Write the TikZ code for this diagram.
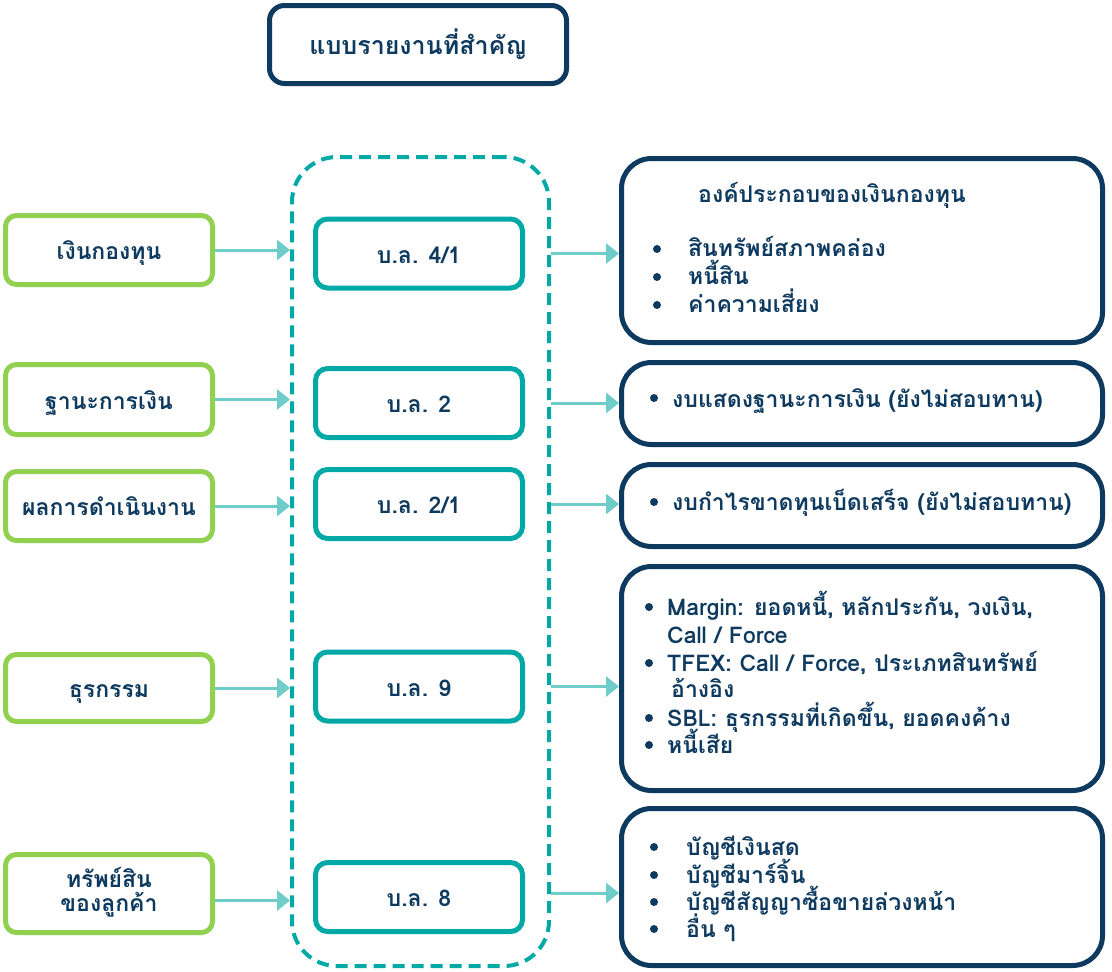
\documentclass[tikz,border=0pt]{standalone}
\usepackage{fontspec}
\setmainfont[Script=Thai]{Loma}
\usetikzlibrary{arrows.meta}
\definecolor{navy}{HTML}{0E3A5F}
\definecolor{lgreen}{HTML}{92D050}
\definecolor{teal2}{HTML}{00A9A6}
\definecolor{arrowc}{HTML}{6ECDC8}
\tikzset{
  txt/.style={font=\bfseries\fontsize{23}{27}\selectfont, text=navy},
  oneline/.style={text height=24pt, text depth=5pt},
  greenbox/.style={txt, draw=lgreen, line width=5pt, rounded corners=11pt, minimum width=207pt, fill=white, align=center, inner sep=0pt},
  midbox/.style={txt, oneline, draw=teal2, line width=5pt, rounded corners=12pt, minimum width=207pt, minimum height=69pt, fill=white, inner sep=0pt},
  rbox/.style={draw=navy, line width=5pt, rounded corners=30pt, minimum width=481pt, inner sep=0pt},
  dashbox/.style={draw=teal2, line width=4pt, dash pattern=on 12pt off 7pt, rounded corners=45pt, minimum width=257pt, minimum height=809pt, inner sep=0pt},
  arr/.style={draw=arrowc, line width=3pt, -{Triangle[length=13pt,width=20pt]}},
  line/.style={txt, anchor=base west, inner sep=0pt},
  bulletdot/.style={circle, fill=navy, minimum size=8pt, inner sep=0pt},
}
\begin{document}
\begin{tikzpicture}[x=1pt,y=-1pt]
\useasboundingbox (0,0) rectangle (1112,972);
% title
\node[txt, draw=navy, line width=5pt, rounded corners=15pt, minimum width=297pt, minimum height=78pt, font=\bfseries\fontsize{25}{28}\selectfont] (title) at (418,44.5) {แบบรายงานที่สำคัญ};
% dashed container
\node[dashbox] (dash) at (420.5,561.5) {};
% left green boxes
\node[greenbox, oneline, minimum height=69pt] (g1) at (109,250) {เงินกองทุน};
\node[greenbox, oneline, minimum height=70pt] (g2) at (109,399.5) {ฐานะการเงิน};
\node[greenbox, oneline, minimum height=69pt] (g3) at (109,506) {ผลการดำเนินงาน};
\node[greenbox, oneline, minimum height=67pt] (g4) at (109,688) {ธุรกรรม};
\node[greenbox, minimum height=78pt] (g5) at (109,893.5) {\raisebox{-10pt}{\begin{tabular}{@{}c@{}}ทรัพย์สิน\\[-3pt]ของลูกค้า\end{tabular}}};
% middle boxes
\node[midbox] (m1) at (419,253.5) {บ.ล. 4/1};
\node[midbox] (m2) at (419,403) {บ.ล. 2};
\node[midbox] (m3) at (419,504) {บ.ล. 2/1};
\node[midbox] (m4) at (419,686.5) {บ.ล. 9};
\node[midbox] (m5) at (419,897) {บ.ล. 8};
% right boxes
\node[rbox, minimum height=184pt] (r1) at (862,250.5) {};
\node[rbox, minimum height=82pt] (r2) at (862,403.5) {};
\node[rbox, minimum height=82pt] (r3) at (862,505.5) {};
\node[rbox, minimum height=224pt] (r4) at (862,678.5) {};
\node[rbox, minimum height=157pt] (r5) at (862,887) {};
% arrows left
\draw[arr] (g1.east) -- (g1.east -| dash.west);
\draw[arr] (g2.east) -- (g2.east -| dash.west);
\draw[arr] (g3.east) -- (g3.east -| dash.west);
\draw[arr] (g4.east) -- (g4.east -| dash.west);
\draw[arr] ([yshift=-7pt]g5.east) -- ([yshift=-7pt]g5.east -| dash.west);
% arrows right
\draw[arr] (m1 -| dash.east) -- (m1 -| r1.west);
\draw[arr] (m2 -| dash.east) -- (m2 -| r2.west);
\draw[arr] (m3 -| dash.east) -- (m3 -| r3.west);
\draw[arr] (m4 -| dash.east) -- (m4 -| r4.west);
\draw[arr] ([yshift=4pt]m5 -| dash.east) -- ([yshift=4pt]m5 -| r5.west);
% right box 1 text
\node[line] (r1h) at (698,202) {องค์ประกอบของเงินกองทุน};
\node[bulletdot] (b11) at (657,249) {};
\node[line] (r1a) at (688,256) {สินทรัพย์สภาพคล่อง};
\node[bulletdot] (b12) at (657,277) {};
\node[line] (r1b) at (688,284) {หนี้สิน};
\node[bulletdot] (b13) at (657,305) {};
\node[line] (r1c) at (688,312) {ค่าความเสี่ยง};
% right box 2
\node[bulletdot] (b21) at (654,398) {};
\node[line] (r2a) at (672,407) {งบแสดงฐานะการเงิน (ยังไม่สอบทาน)};
% right box 3
\node[bulletdot] (b31) at (654,502) {};
\node[line] (r3a) at (672,510) {งบกำไรขาดทุนเบ็ดเสร็จ (ยังไม่สอบทาน)};
% right box 4
\node[bulletdot] (b41) at (649,607) {};
\node[line] (r4a) at (667,615) {Margin: ยอดหนี้, หลักประกัน, วงเงิน,};
\node[line] (r4b) at (667,643) {Call / Force};
\node[bulletdot] (b42) at (649,663) {};
\node[line] (r4c) at (667,671) {TFEX: Call / Force, ประเภทสินทรัพย์};
\node[line] (r4d) at (671,697) {อ้างอิง};
\node[bulletdot] (b43) at (649,718) {};
\node[line] (r4e) at (667,726) {SBL: ธุรกรรมที่เกิดขึ้น, ยอดคงค้าง};
\node[bulletdot] (b44) at (649,745) {};
\node[line] (r4f) at (667,753) {หนี้เสีย};
% right box 5
\node[bulletdot] (b51) at (654,847) {};
\node[line] (r5a) at (686,855) {บัญชีเงินสด};
\node[bulletdot] (b52) at (654,875) {};
\node[line] (r5b) at (686,883) {บัญชีมาร์จิ้น};
\node[bulletdot] (b53) at (654,902) {};
\node[line] (r5c) at (686,910) {บัญชีสัญญาซื้อขายล่วงหน้า};
\node[bulletdot] (b54) at (654,929) {};
\node[line] (r5d) at (686,937) {อื่น ๆ};
\end{tikzpicture}
\end{document}
